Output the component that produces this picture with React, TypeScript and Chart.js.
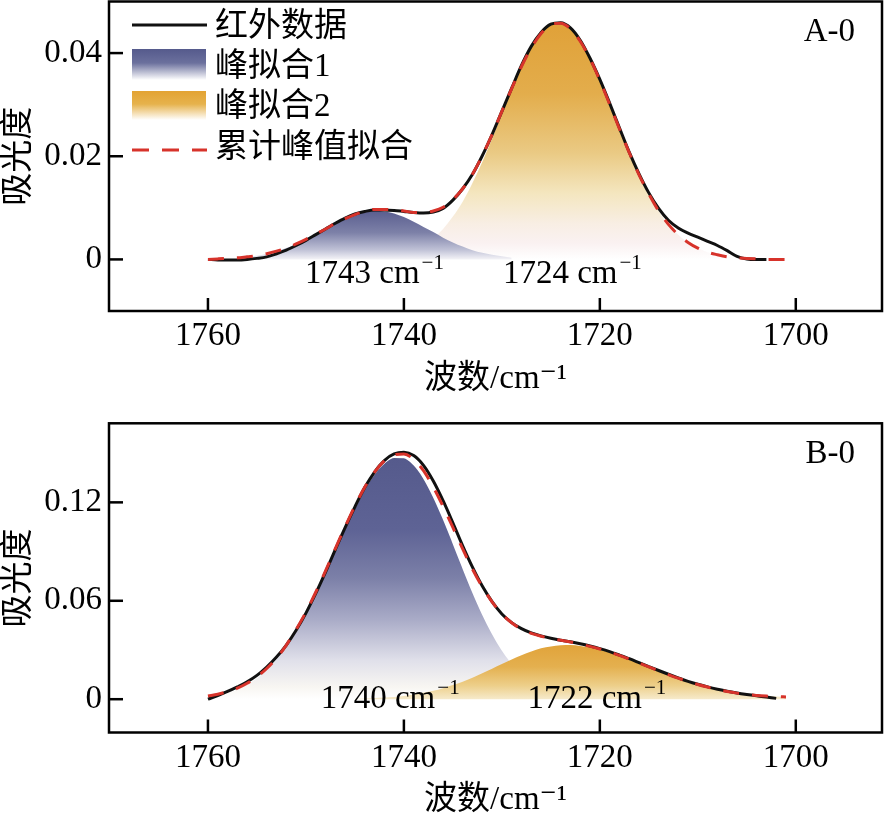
import React, { useEffect, useRef } from 'react';
import { Chart, registerables } from 'chart.js';

Chart.register(...registerables);

const SERIF = "'Liberation Serif', 'Noto Sans CJK SC', 'DejaVu Serif', serif";
Chart.defaults.font.family = SERIF;

// ---------------- data ----------------
const wavenumbers = [
  1760, 1759, 1758, 1757, 1756, 1755, 1754, 1753, 1752, 1751,
  1750, 1749, 1748, 1747, 1746, 1745, 1744, 1743, 1742, 1741,
  1740, 1739, 1738, 1737, 1736, 1735, 1734, 1733, 1732, 1731,
  1730, 1729, 1728, 1727, 1726, 1725, 1724, 1723, 1722, 1721,
  1720, 1719, 1718, 1717, 1716, 1715, 1714, 1713, 1712, 1711,
  1710, 1709, 1708, 1707, 1706, 1705, 1704, 1703, 1702, 1701,
];

const xTicks = [1760, 1740, 1720, 1700];
const yTicksA = [0, 0.02, 0.04];
const yTicksB = [0, 0.06, 0.12];

const seriesNames = ['红外数据', '峰拟合1', '峰拟合2', '累计峰值拟合'];
const xTitle = '波数/cm⁻¹';
const yTitle = '吸光度';
const panelNames = ['A-0', 'B-0'];
const peakTextA = ['1743 cm', '1724 cm'];
const peakTextB = ['1740 cm', '1722 cm'];
const supText = '−1';

const topExperimental = [
  0.0000, -0.0001, -0.0001, -0.0001, 0.0000, 0.0002, 0.0005, 0.0011, 0.0018, 0.0027,
  0.0037, 0.0048, 0.0059, 0.0070, 0.0080, 0.0088, 0.0093, 0.0096, 0.0096, 0.0095,
  0.0093, 0.0091, 0.0090, 0.0092, 0.0099, 0.0115, 0.0137, 0.0165, 0.0201, 0.0242,
  0.0287, 0.0332, 0.0376, 0.0413, 0.0440, 0.0456, 0.0459, 0.0449, 0.0425, 0.0390,
  0.0349, 0.0303, 0.0255, 0.0208, 0.0166, 0.0129, 0.0099, 0.0076, 0.0061, 0.0051,
  0.0043, 0.0035, 0.0027, 0.0017, 0.0006, 0.0001, 0.0000, 0.0000, null, null,
];
const topFit = [
  0.0000, 0.0001, 0.0002, 0.0003, 0.0005, 0.0007, 0.0011, 0.0016, 0.0022, 0.0030,
  0.0039, 0.0049, 0.0059, 0.0070, 0.0079, 0.0087, 0.0093, 0.0097, 0.0097, 0.0096,
  0.0094, 0.0091, 0.0091, 0.0094, 0.0101, 0.0116, 0.0137, 0.0165, 0.0201, 0.0242,
  0.0287, 0.0331, 0.0374, 0.0410, 0.0438, 0.0455, 0.0458, 0.0447, 0.0423, 0.0389,
  0.0347, 0.0301, 0.0253, 0.0207, 0.0164, 0.0127, 0.0094, 0.0068, 0.0048, 0.0033,
  0.0022, 0.0014, 0.0009, 0.0005, 0.0003, 0.0002, 0.0001, 0.0000, 0.0000, 0.0000,
];
const topPeak1 = [
  null, null, null, 0.0003, 0.0005, 0.0007, 0.0011, 0.0016, 0.0022, 0.0030,
  0.0039, 0.0048, 0.0059, 0.0069, 0.0079, 0.0087, 0.0092, 0.0094, 0.0093, 0.0089,
  0.0082, 0.0073, 0.0063, 0.0053, 0.0042, 0.0033, 0.0025, 0.0018, 0.0013, 0.0009,
  0.0006, 0.0003, null, null, null, null, null, null, null, null,
  null, null, null, null, null, null, null, null, null, null,
  null, null, null, null, null, null, null, null, null, null,
];
const topPeak2 = [
  null, null, null, null, null, null, null, null, null, null,
  null, null, null, null, null, null, null, null, 0.0004, 0.0007,
  0.0012, 0.0018, 0.0028, 0.0041, 0.0059, 0.0083, 0.0112, 0.0148, 0.0189, 0.0234,
  0.0282, 0.0329, 0.0373, 0.0410, 0.0438, 0.0455, 0.0458, 0.0447, 0.0423, 0.0388,
  0.0347, 0.0301, 0.0253, 0.0207, 0.0164, 0.0127, 0.0094, 0.0068, 0.0048, 0.0033,
  0.0022, 0.0014, 0.0009, 0.0005, 0.0003, 0.0002, null, null, null, null,
];

const bottomExperimental = [
  0.0000, 0.0022, 0.0047, 0.0075, 0.0106, 0.0145, 0.0196, 0.0257, 0.0330, 0.0420,
  0.0525, 0.0645, 0.0775, 0.0912, 0.1046, 0.1173, 0.1290, 0.1385, 0.1455, 0.1495,
  0.1505, 0.1485, 0.1425, 0.1330, 0.1210, 0.1075, 0.0935, 0.0805, 0.0690, 0.0595,
  0.0520, 0.0467, 0.0430, 0.0404, 0.0386, 0.0372, 0.0360, 0.0350, 0.0338, 0.0324,
  0.0308, 0.0290, 0.0269, 0.0247, 0.0223, 0.0199, 0.0175, 0.0152, 0.0130, 0.0109,
  0.0091, 0.0075, 0.0061, 0.0049, 0.0038, 0.0029, 0.0021, 0.0013, 0.0005, null,
];
const bottomFit = [
  0.0020, 0.0030, 0.0046, 0.0067, 0.0097, 0.0136, 0.0187, 0.0250, 0.0330, 0.0425,
  0.0531, 0.0652, 0.0782, 0.0918, 0.1051, 0.1178, 0.1292, 0.1384, 0.1453, 0.1490,
  0.1495, 0.1462, 0.1393, 0.1293, 0.1175, 0.1047, 0.0916, 0.0793, 0.0685, 0.0594,
  0.0520, 0.0466, 0.0427, 0.0401, 0.0384, 0.0370, 0.0359, 0.0349, 0.0336, 0.0322,
  0.0306, 0.0288, 0.0267, 0.0244, 0.0221, 0.0197, 0.0173, 0.0150, 0.0128, 0.0108,
  0.0090, 0.0074, 0.0059, 0.0047, 0.0037, 0.0029, 0.0023, 0.0019, 0.0016, 0.0014,
];
const bottomPeak1 = [
  0.0020, 0.0030, 0.0046, 0.0067, 0.0097, 0.0136, 0.0187, 0.0250, 0.0330, 0.0424,
  0.0530, 0.0651, 0.0780, 0.0916, 0.1049, 0.1175, 0.1288, 0.1378, 0.1443, 0.1476,
  0.1475, 0.1433, 0.1354, 0.1242, 0.1108, 0.0961, 0.0809, 0.0662, 0.0527, 0.0408,
  0.0306, 0.0224, 0.0159, 0.0110, 0.0074, 0.0048, 0.0030, 0.0019, 0.0011, 0.0006,
  0.0004, 0.0002, 0.0001, null, null, null, null, null, null, null,
  null, null, null, null, null, null, null, null, null, null,
];
const bottomPeak2 = [
  null, null, null, null, null, null, null, null, null, null,
  null, null, null, null, null, 0.0003, 0.0005, 0.0007, 0.0010, 0.0014,
  0.0020, 0.0029, 0.0039, 0.0051, 0.0067, 0.0086, 0.0107, 0.0131, 0.0158, 0.0186,
  0.0214, 0.0242, 0.0268, 0.0291, 0.0310, 0.0322, 0.0329, 0.0330, 0.0325, 0.0316,
  0.0302, 0.0286, 0.0266, 0.0244, 0.0221, 0.0197, 0.0173, 0.0150, 0.0128, 0.0108,
  0.0090, 0.0074, 0.0059, 0.0047, 0.0037, 0.0029, 0.0023, 0.0019, 0.0016, 0.0014,
];

// ---------------- styling ----------------
const BLACK = '#111111';
const RED = '#D7332B';

type Stops = [number, string][];

const blueStopsA: Stops = [[0, '#5A5E8F'], [0.45, '#7D81A8'], [0.8, '#BFC1D6'], [1, '#F4F3F7']];
const orangeStopsA: Stops = [[0, '#E0A138'], [0.3, '#E3AD4C'], [0.55, '#EACA84'], [0.72, '#F4E6BF'], [0.85, '#F8EEE4'], [0.93, '#FAF1F1'], [1, '#FFFFFF']];
const blueStopsB: Stops = [[0, '#555A8C'], [0.3, '#5E6395'], [0.5, '#7C80A8'], [0.67, '#A9ABC7'], [0.84, '#E0E0EA'], [0.95, '#F8F6F2'], [1, '#FFFFFF']];
const orangeStopsB: Stops = [[0, '#E1A33A'], [0.4, '#E4B04F'], [0.75, '#EDCF8A'], [1, '#F6EACB']];

type PeakLabel = { text: string; at: number; base: number };

type Panel = {
  exp: (number | null)[];
  fit: (number | null)[];
  p1: (number | null)[];
  p2: (number | null)[];
  yMin: number;
  yMax: number;
  yTicks: number[];
  name: string;
  labels: PeakLabel[];
  legend: boolean;
  blueOnTop: boolean;
  blueStops: Stops;
  orangeStops: Stops;
  blueBorder: boolean;
  padTop: number;
  padBottom: number;
  xHeight: number;
};

const panelA: Panel = {
  exp: topExperimental, fit: topFit, p1: topPeak1, p2: topPeak2,
  yMin: -0.01, yMax: 0.05, yTicks: yTicksA, name: panelNames[0],
  labels: [
    { text: peakTextA[0], at: 1743.0, base: -0.0045 },
    { text: peakTextA[1], at: 1722.8, base: -0.0045 },
  ],
  legend: true, blueOnTop: true, blueStops: blueStopsA, orangeStops: orangeStopsA, blueBorder: false,
  padTop: 1.5, padBottom: 1, xHeight: 88,
};

const panelB: Panel = {
  exp: bottomExperimental, fit: bottomFit, p1: bottomPeak1, p2: bottomPeak2,
  yMin: -0.0203, yMax: 0.1682, yTicks: yTicksB, name: panelNames[1],
  labels: [
    { text: peakTextB[0], at: 1741.4, base: -0.0055 },
    { text: peakTextB[1], at: 1720.3, base: -0.0055 },
  ],
  legend: false, blueOnTop: false, blueStops: blueStopsB, orangeStops: orangeStopsB, blueBorder: true,
  padTop: 23.3, padBottom: 8, xHeight: 87.5,
};

const pts = (arr: (number | null)[]) => wavenumbers.map((x, i) => ({ x, y: arr[i] }));
const maxOf = (arr: (number | null)[]) => Math.max(...(arr.filter((v) => v !== null) as number[]));

function vGrad(chart: any, topVal: number, stops: Stops) {
  const { ctx, chartArea, scales } = chart;
  if (!chartArea || !scales.y) return 'rgba(0,0,0,0)';
  const y0 = scales.y.getPixelForValue(topVal);
  const y1 = scales.y.getPixelForValue(0);
  const g = ctx.createLinearGradient(0, y0, 0, y1);
  stops.forEach(([o, c]) => g.addColorStop(o, c));
  return g;
}

function makeDecor(panel: Panel) {
  return {
    id: 'decor',
    afterDatasetsDraw(chart: any) {
      const { ctx, chartArea: a, scales } = chart;
      const x = scales.x;
      const y = scales.y;
      ctx.save();
      ctx.fillStyle = '#000';

      // peak labels
      panel.labels.forEach((lab) => {
        const cx = x.getPixelForValue(lab.at);
        const base = y.getPixelForValue(lab.base);
        ctx.font = `33px ${SERIF}`;
        const w1 = ctx.measureText(lab.text).width;
        ctx.font = `21px ${SERIF}`;
        const w2 = ctx.measureText(supText).width;
        const sx = cx - (w1 + 2 + w2) / 2;
        ctx.textAlign = 'left';
        ctx.textBaseline = 'alphabetic';
        ctx.font = `33px ${SERIF}`;
        ctx.fillText(lab.text, sx, base);
        ctx.font = `21px ${SERIF}`;
        ctx.fillText(supText, sx + w1 + 2, base - 14);
      });

      // frame
      ctx.strokeStyle = '#000';
      ctx.lineWidth = 2.5;
      ctx.setLineDash([]);
      ctx.strokeRect(a.left, a.top, a.right - a.left, a.bottom - a.top);

      // inward ticks
      ctx.lineWidth = 2.5;
      x.ticks.forEach((t: any) => {
        const px = x.getPixelForValue(t.value);
        ctx.beginPath();
        ctx.moveTo(px, a.bottom);
        ctx.lineTo(px, a.bottom - 13);
        ctx.stroke();
      });
      y.ticks.forEach((t: any) => {
        const py = y.getPixelForValue(t.value);
        ctx.beginPath();
        ctx.moveTo(a.left, py);
        ctx.lineTo(a.left + 14, py);
        ctx.stroke();
      });

      // panel name
      ctx.font = `33px ${SERIF}`;
      ctx.textAlign = 'right';
      ctx.textBaseline = 'middle';
      ctx.fillText(panel.name, a.right - 27, a.top + 31);

      // legend
      if (panel.legend) {
        const L = a.left + 23;
        const W = 75;
        const tx = a.left + 106;
        ctx.strokeStyle = BLACK;
        ctx.lineWidth = 3;
        ctx.beginPath();
        ctx.moveTo(L, a.top + 23.5);
        ctx.lineTo(L + W, a.top + 23.5);
        ctx.stroke();
        let g = ctx.createLinearGradient(0, a.top + 47.5, 0, a.top + 78.5);
        g.addColorStop(0, '#555A8C');
        g.addColorStop(0.45, '#6B709D');
        g.addColorStop(1, '#FFFFFF');
        ctx.fillStyle = g;
        ctx.fillRect(L, a.top + 47.5, W - 1, 31);
        g = ctx.createLinearGradient(0, a.top + 89.5, 0, a.top + 118.5);
        g.addColorStop(0, '#E3A333');
        g.addColorStop(0.45, '#E6B24C');
        g.addColorStop(1, '#FFFFFF');
        ctx.fillStyle = g;
        ctx.fillRect(L, a.top + 89.5, W - 1, 29);
        ctx.strokeStyle = RED;
        ctx.lineWidth = 3;
        ctx.setLineDash([17, 13]);
        ctx.beginPath();
        ctx.moveTo(L, a.top + 148.5);
        ctx.lineTo(L + W, a.top + 148.5);
        ctx.stroke();
        ctx.setLineDash([]);
        ctx.fillStyle = '#000';
        ctx.font = `33px ${SERIF}`;
        ctx.textAlign = 'left';
        ctx.textBaseline = 'middle';
        const ys = [25.5, 65.5, 105.5, 146.5];
        seriesNames.forEach((n, i) => ctx.fillText(n, tx, a.top + ys[i]));
      }
      ctx.restore();
    },
  };
}

function makeChart(canvas: HTMLCanvasElement, panel: Panel) {
  const p1Max = maxOf(panel.p1);
  const p2Max = maxOf(panel.p2);
  const tickFont = { family: SERIF, size: 33 };
  const titleFont = { family: SERIF, size: 33 };
  return new Chart(canvas, {
    type: 'line',
    data: {
      datasets: [
        {
          label: seriesNames[3],
          data: pts(panel.fit),
          borderColor: RED,
          borderWidth: 3,
          borderDash: [16, 13],
          pointRadius: 0,
          fill: false,
          cubicInterpolationMode: 'monotone',
          order: 0,
        },
        {
          label: seriesNames[0],
          data: pts(panel.exp),
          borderColor: BLACK,
          borderWidth: 3,
          pointRadius: 0,
          fill: false,
          cubicInterpolationMode: 'monotone',
          order: 1,
        },
        {
          label: seriesNames[1],
          data: pts(panel.p1),
          borderColor: panel.blueBorder ? '#FFFFFF' : 'rgba(0,0,0,0)',
          borderWidth: panel.blueBorder ? 2 : 1,
          backgroundColor: (c: any) => vGrad(c.chart, p1Max, panel.blueStops),
          pointRadius: 0,
          fill: 'origin',
          cubicInterpolationMode: 'monotone',
          order: panel.blueOnTop ? 2 : 3,
        },
        {
          label: seriesNames[2],
          data: pts(panel.p2),
          borderColor: 'rgba(0,0,0,0)',
          borderWidth: 1,
          backgroundColor: (c: any) => vGrad(c.chart, p2Max, panel.orangeStops),
          pointRadius: 0,
          fill: 'origin',
          cubicInterpolationMode: 'monotone',
          order: panel.blueOnTop ? 3 : 2,
        },
      ] as any,
    },
    options: {
      responsive: false,
      animation: false,
      devicePixelRatio: 1,
      events: [],
      layout: { padding: { left: 0, right: 2, top: panel.padTop, bottom: panel.padBottom } },
      plugins: {
        legend: { display: false },
        tooltip: { enabled: false },
      },
      scales: {
        x: {
          type: 'linear',
          reverse: true,
          min: 1691.2,
          max: 1770.1,
          afterBuildTicks: (s: any) => {
            s.ticks = xTicks.map((v) => ({ value: v }));
          },
          afterFit: (s: any) => {
            s.height = panel.xHeight;
            s.paddingLeft = 0;
            s.paddingRight = 0;
            s.paddingTop = 0;
            s.paddingBottom = 0;
          },
          grid: { display: false, drawTicks: false },
          border: { display: false },
          ticks: {
            font: tickFont,
            color: '#000',
            padding: 6,
            maxRotation: 0,
            autoSkip: false,
            callback: (v: any) => String(v),
          },
          title: {
            display: true,
            text: xTitle,
            font: titleFont,
            color: '#000',
            padding: { top: 0, bottom: 0 },
          },
        },
        y: {
          type: 'linear',
          min: panel.yMin,
          max: panel.yMax,
          afterBuildTicks: (s: any) => {
            s.ticks = panel.yTicks.map((v) => ({ value: v }));
          },
          afterFit: (s: any) => {
            s.width = 109;
            s.paddingLeft = 0;
            s.paddingRight = 0;
            s.paddingTop = 0;
            s.paddingBottom = 0;
          },
          grid: { display: false, drawTicks: false },
          border: { display: false },
          ticks: {
            font: tickFont,
            color: '#000',
            padding: 7,
            callback: (v: any) => (Number(v) === 0 ? '0' : Number(v).toFixed(2)),
          },
          title: {
            display: true,
            text: yTitle,
            font: titleFont,
            color: '#000',
            padding: { top: 0, bottom: 0 },
          },
        },
      },
    } as any,
    plugins: [makeDecor(panel) as any],
  });
}

export default function App() {
  const refA = useRef<HTMLCanvasElement>(null);
  const refB = useRef<HTMLCanvasElement>(null);
  useEffect(() => {
    const a = makeChart(refA.current as HTMLCanvasElement, panelA);
    const b = makeChart(refB.current as HTMLCanvasElement, panelB);
    return () => {
      a.destroy();
      b.destroy();
    };
  }, []);
  return (
    <div style={{ position: 'absolute', left: 0, top: 0, width: 884, height: 828, background: '#fff' }}>
      <canvas
        ref={refA}
        width={884}
        height={400}
        style={{ position: 'absolute', left: 0, top: 0, width: 884, height: 400 }}
      />
      <canvas
        ref={refB}
        width={884}
        height={428}
        style={{ position: 'absolute', left: 0, top: 400, width: 884, height: 428 }}
      />
    </div>
  );
}
